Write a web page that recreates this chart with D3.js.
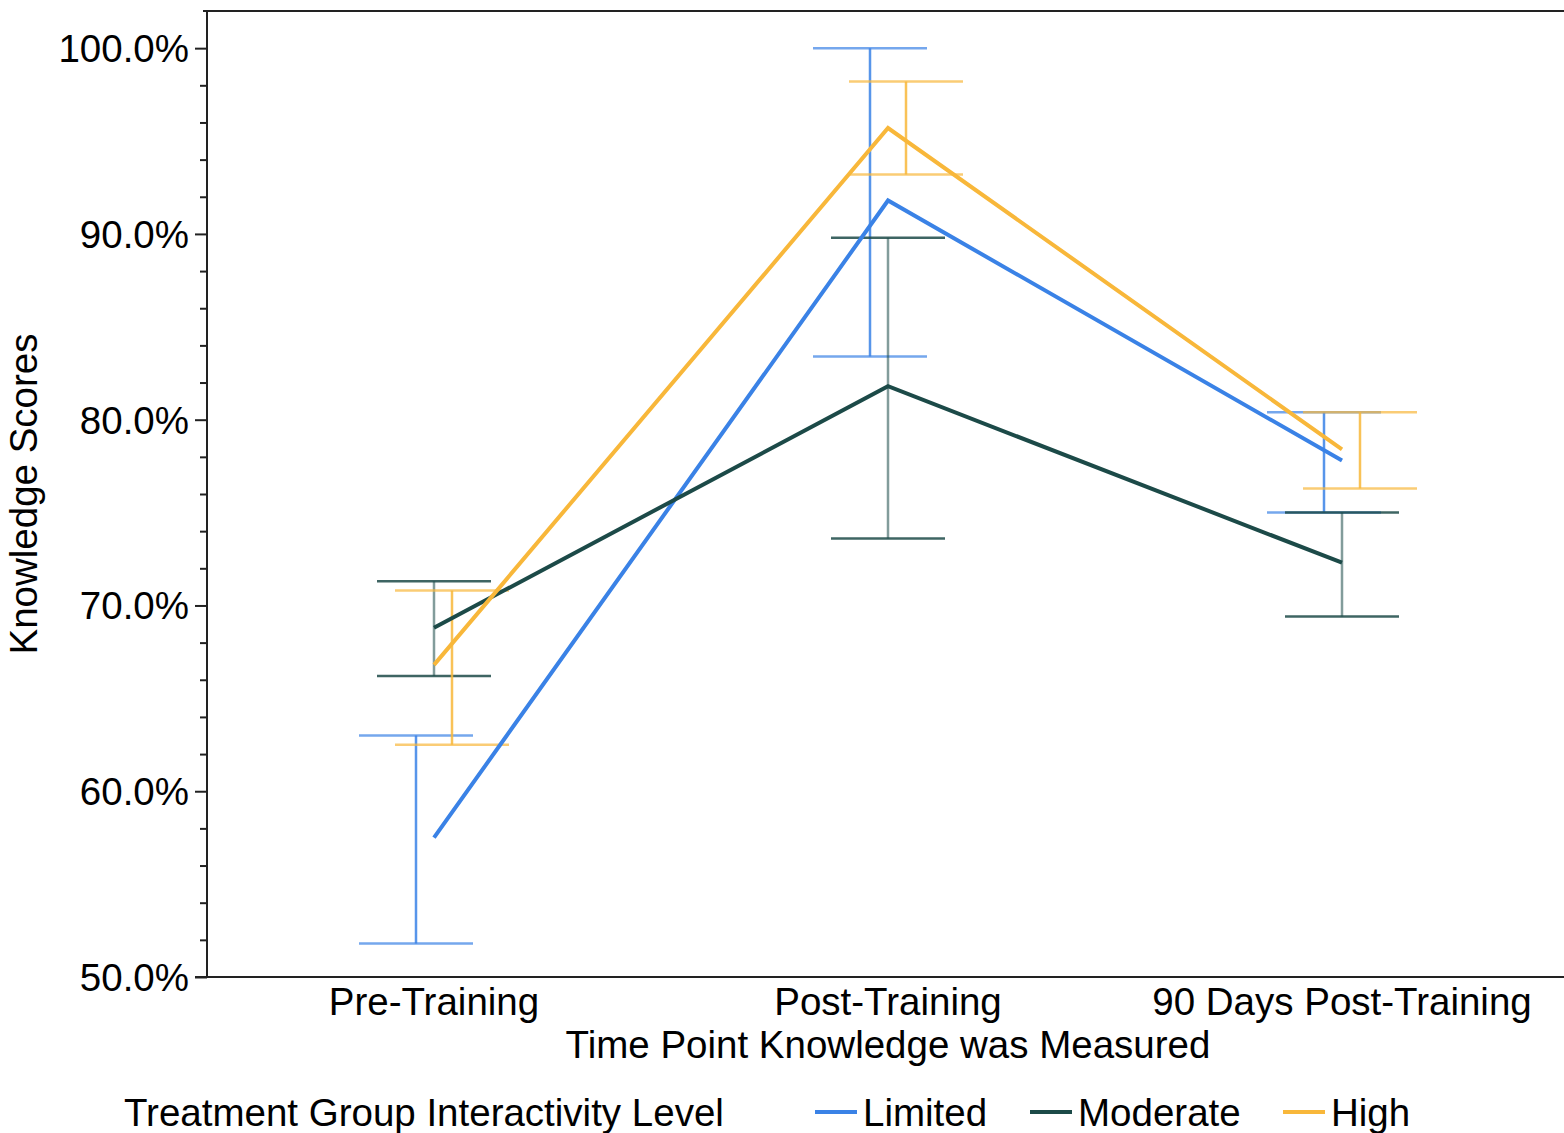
<!DOCTYPE html>
<html><head><meta charset="utf-8">
<script src="https://cdn.jsdelivr.net/npm/d3@7"></script>
<style>body{margin:0;background:#fff}svg{display:block}text{font-family:"Liberation Sans",Arial,sans-serif;fill:#000}</style>
</head><body><svg id="c" width="1564" height="1133"></svg>
<script>
const categories = ["Pre-Training","Post-Training","90 Days Post-Training"];
const seriesNames = ["Limited","Moderate","High"];
const colors = ["#3a82e6","#1c4a48","#f8b73a"];
const limitedMean = [57.5, 91.8, 77.8];
const limitedLow  = [51.8, 83.4, 75.0];
const limitedHigh = [63.0, 100.0, 80.4];
const moderateMean = [68.8, 81.8, 72.3];
const moderateLow  = [66.2, 73.6, 69.4];
const moderateHigh = [71.3, 89.8, 75.0];
const highMean = [66.8, 95.7, 78.4];
const highLow  = [62.5, 93.2, 76.3];
const highHigh = [70.8, 98.2, 80.4];
const yTicks = [50,60,70,80,90,100];

const series = [
  {name:seriesNames[0], color:colors[0], mean:limitedMean, lo:limitedLow, hi:limitedHigh, off:-18},
  {name:seriesNames[1], color:colors[1], mean:moderateMean, lo:moderateLow, hi:moderateHigh, off:0},
  {name:seriesNames[2], color:colors[2], mean:highMean, lo:highLow, hi:highHigh, off:18}
];

const svg = d3.select("#c");
const L=207, R=1569, T=11, B=977;
const x = d3.scalePoint().domain(categories).range([L,R]).padding(0.5);
const y = d3.scaleLinear().domain([50,102]).range([B,T]);
const FS = 38.5;

svg.append("line").attr("x1",L-4).attr("x2",1564).attr("y1",T).attr("y2",T).attr("stroke","#222").attr("stroke-width",2);

const yAxis = svg.append("g").attr("transform",`translate(${L},0)`)
  .call(d3.axisLeft(y).tickValues(d3.range(50,101,2)).tickSize(0).tickFormat(""));
yAxis.select(".domain").remove();
svg.append("line").attr("x1",L).attr("x2",L).attr("y1",T-1).attr("y2",B+1).attr("stroke","#222").attr("stroke-width",2);
yAxis.selectAll(".tick line").attr("x1", d=> yTicks.includes(d)? -12 : -7).attr("stroke","#222").attr("stroke-width",2);
svg.append("g").selectAll("text").data(yTicks).join("text")
  .attr("x",L-18).attr("y",d=>y(d)).attr("dy","0.36em").attr("text-anchor","end")
  .attr("font-size",FS).text(d=>d3.format(".1f")(d)+"%");

const xAxis = svg.append("g").attr("transform",`translate(0,${B})`).call(d3.axisBottom(x).tickSize(0).tickFormat(""));
xAxis.select(".domain").remove();
svg.append("line").attr("x1",L-12).attr("x2",1564).attr("y1",B).attr("y2",B).attr("stroke","#222").attr("stroke-width",2);
svg.append("g").selectAll("text").data(categories).join("text")
  .attr("x",d=>x(d)).attr("y",1015).attr("text-anchor","middle").attr("font-size",FS).text(d=>d);

svg.append("text").attr("x",888).attr("y",1058).attr("text-anchor","middle").attr("font-size",FS).text("Time Point Knowledge was Measured");
svg.append("text").attr("transform",`translate(37,${(T+B)/2}) rotate(-90)`).attr("text-anchor","middle").attr("font-size",FS).text("Knowledge Scores");

const cap = 57;
series.forEach(s=>{
  const g = svg.append("g");
  categories.forEach((c,i)=>{
    const cx = x(c)+s.off;
    g.append("line").attr("x1",cx).attr("x2",cx).attr("y1",y(s.lo[i])).attr("y2",y(s.hi[i]))
      .attr("stroke",s.color).attr("stroke-width",2.5).attr("stroke-opacity",s.name==="Moderate"?0.55:0.85);
    [s.lo[i], s.hi[i]].forEach(v=>{
      g.append("line").attr("x1",cx-cap).attr("x2",cx+cap).attr("y1",y(v)).attr("y2",y(v))
        .attr("stroke",s.color).attr("stroke-width",2.5).attr("stroke-opacity",s.name==="Moderate"?0.85:0.7);
    });
  });
});

const line = d3.line().x((d,i)=>x(categories[i])).y(d=>y(d));
series.forEach(s=>{
  svg.append("path").attr("d",line(s.mean)).attr("fill","none").attr("stroke",s.color).attr("stroke-width",4);
});

svg.append("text").attr("x",124).attr("y",1126).attr("font-size",FS).text("Treatment Group Interactivity Level");
const legX = [815,1030,1283];
series.forEach((s,i)=>{
  svg.append("line").attr("x1",legX[i]).attr("x2",legX[i]+42).attr("y1",1112).attr("y2",1112).attr("stroke",s.color).attr("stroke-width",4);
  svg.append("text").attr("x",legX[i]+48).attr("y",1126).attr("font-size",FS).text(s.name);
});
</script></body></html>
